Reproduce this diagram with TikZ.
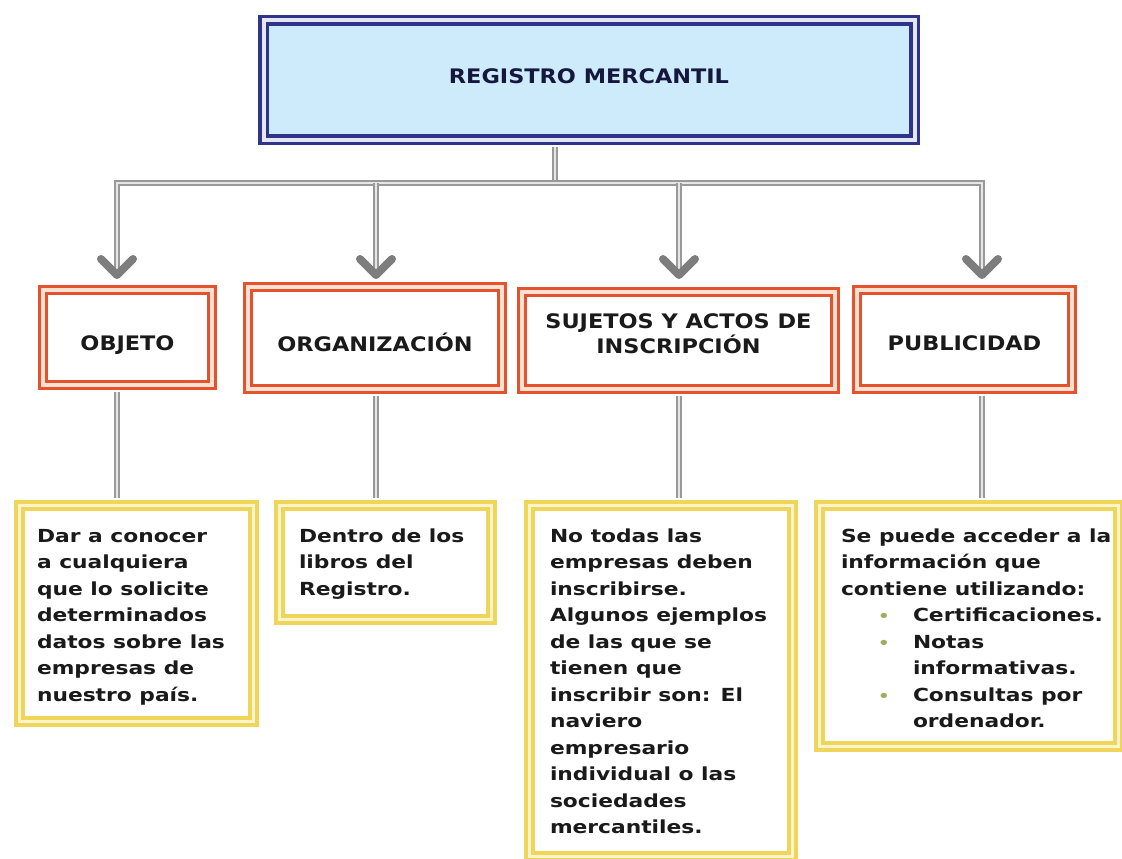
\documentclass[tikz,border=0pt]{standalone}
\usepackage{fontspec}
\setmainfont{DejaVu Sans}[FakeStretch=1.12]
\newfontfamily\bodyfont{DejaVu Sans}[FakeStretch=1.21]
\usetikzlibrary{calc}
\definecolor{navy}{HTML}{2E3488}
\definecolor{navygap}{HTML}{E4E6F6}
\definecolor{skyfill}{HTML}{CDEBFB}
\definecolor{redline}{HTML}{E4532E}
\definecolor{redgap}{HTML}{FDE2D4}
\definecolor{goldline}{HTML}{EFD65A}
\definecolor{goldgap}{HTML}{FCF5CC}
\definecolor{pipeline}{HTML}{999999}
\definecolor{pipegap}{HTML}{E6E6E6}
\definecolor{chevgray}{HTML}{7D7D7D}
\definecolor{bulletgreen}{HTML}{9DAE62}
\definecolor{inkdark}{HTML}{1A1A1A}
\newcommand{\detail}[3]{\parbox[t][#2][t]{#1}{\begin{tabular}[t]{@{}l@{}}#3\end{tabular}}}
\newcommand{\bul}{\textcolor{bulletgreen}{\fontsize{15}{15}\selectfont\textbullet}}
\newcommand{\bulletrow}{\hspace*{37pt}\makebox[35pt][l]{\bul}}
\tikzset{
  mainbox/.style={draw=navy, double=navygap, line width=3.5pt, double distance=4pt, fill=skyfill,
    minimum width=651pt, minimum height=119pt, inner sep=0pt, text depth=8pt,
    font=\fontsize{20}{24}\selectfont\bfseries, text=navy!45!black},
  topicbox/.style={draw=redline, double=redgap, line width=3.4pt, double distance=3.2pt, fill=white,
    inner sep=0pt, align=center, font=\fontsize{20}{25}\selectfont\bfseries, text=inkdark},
  detailbox/.style={draw=goldline, double=goldgap, line width=4pt, double distance=3pt, fill=white,
    anchor=north west, inner ysep=18pt, font=\bodyfont\fontsize{18}{26.5}\selectfont\bfseries, text=inkdark},
  pipe/.style={draw=pipeline, double=pipegap, line width=1.6pt, double distance=2.6pt},
  chevron/.style={draw=chevgray, line width=8pt, line cap=round, line join=round}
}
\begin{document}
\begin{tikzpicture}[x=1pt,y=-1pt]
\useasboundingbox (0,0) rectangle (1122,859);
\node[mainbox] (reg) at (589,80) {REGISTRO MERCANTIL};
\node[topicbox, minimum width=169pt, minimum height=95pt, text height=26pt, text depth=0pt] (obj) at (127.5,337.5) {OBJETO};
\node[topicbox, minimum width=254pt, minimum height=102pt, text height=26pt, text depth=0pt] (org) at (375,338) {ORGANIZACIÓN};
\node[topicbox, minimum width=313pt, minimum height=97pt, text depth=13pt] (suj) at (678.5,340.5) {SUJETOS Y ACTOS DE\\INSCRIPCIÓN};
\node[topicbox, minimum width=215pt, minimum height=99pt, text height=22pt, text depth=0pt] (pub) at (964.5,339.5) {PUBLICIDAD};

\node[detailbox, inner xsep=17.5pt] (obj-info) at (17.5,503.5) {\detail{199pt}{180pt}{Dar a conocer\\
  a cualquiera\\ que lo solicite\\ determinados\\ datos sobre las\\ empresas de\\ nuestro país.}};
\node[detailbox, inner xsep=19.5pt] (org-info) at (277.5,503.5) {\detail{173pt}{78pt}{Dentro de los\\
  libros del\\ Registro.}};
\node[detailbox, inner xsep=20.5pt] (suj-info) at (527.5,503.5) {\detail{222pt}{315pt}{No todas las\\
  empresas deben\\ inscribirse.\\ Algunos ejemplos\\ de las que se\\ tienen que\\ inscribir son: El\\
  naviero\\ empresario\\ individual o las\\ sociedades\\ mercantiles.}};
\node[detailbox, inner xsep=21.5pt] (pub-info) at (817.5,503.5) {\detail{256pt}{205pt}{Se puede acceder a la\\
  información que\\ contiene utilizando:\\ \bulletrow Certificaciones.\\ \bulletrow Notas\\
  \hspace*{72pt}informativas.\\ \bulletrow Consultas por\\ \hspace*{72pt}ordenador.}};

\coordinate (hub) at (555,183);
\foreach \n/\x in {obj/117, org/376, suj/679, pub/982}
{       \coordinate (drop-\n) at (\x,183);
        \coordinate (tip-\n) at (\x,275);
}
\draw[pipe, shorten <=5.5pt] (reg.south -| hub) -- (hub);
\draw[pipe] (tip-obj) -- (drop-obj) -- (drop-pub) -- (tip-pub);
\foreach \n in {org,suj}
{       \draw[pipe] (drop-\n) -- (tip-\n);
}
\foreach \n in {obj,org,suj,pub}
{       \draw[chevron] ($(tip-\n)+(-16,-16)$) -- (tip-\n) -- ($(tip-\n)+(16,-16)$);
        \draw[pipe, shorten <=5pt, shorten >=5.5pt] (\n.south -| drop-\n) -- (\n-info.north -| drop-\n);
}
\end{tikzpicture}
\end{document}
